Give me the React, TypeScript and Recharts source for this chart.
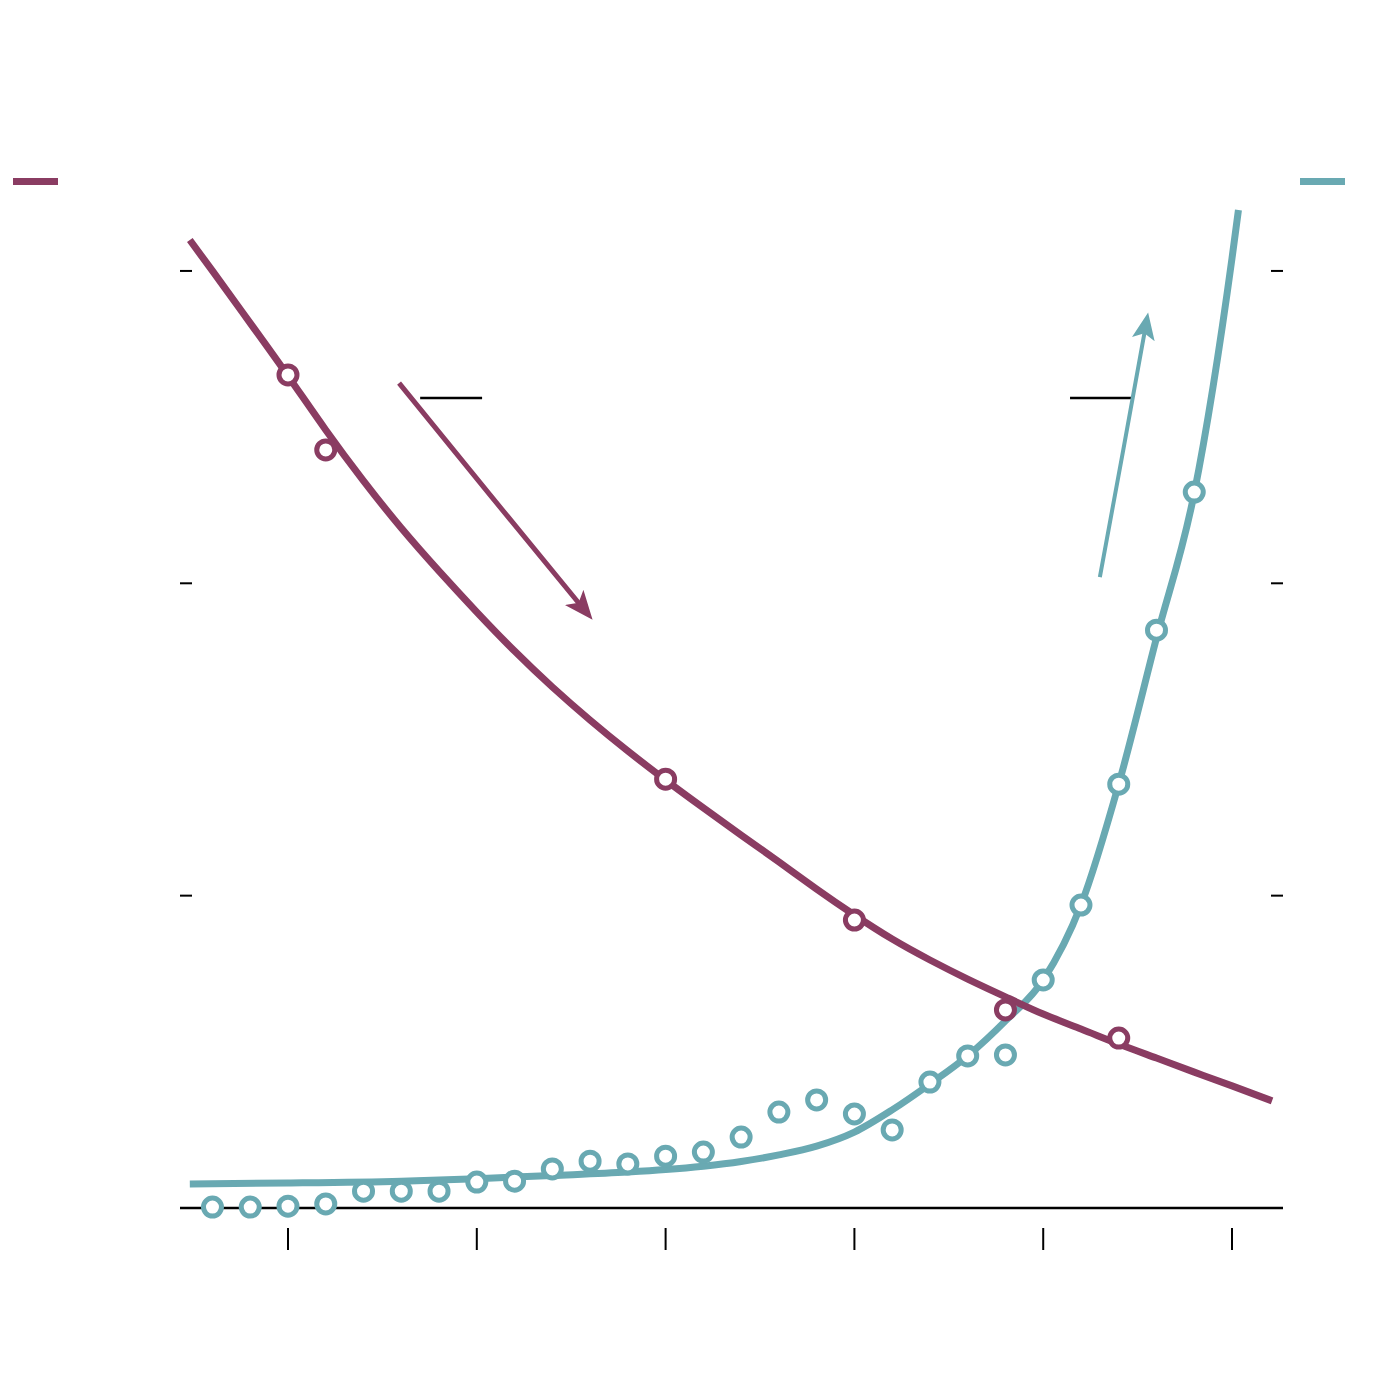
import React from "react"
import { ComposedChart, Line, XAxis, YAxis, ReferenceLine } from "recharts"

const PURPLE = "#8a3c62"
const TEAL = "#69a9b2"

const X_TICKS = [1995, 2000, 2005, 2010, 2015, 2020]
const Y_TICKS = [0, 100, 200, 300]

// fitted curves
const PURPLE_FIT_YEARS = [
  1992.4, 1993, 1994, 1995, 1996, 1997, 1998, 1999, 2000, 2001, 2002, 2003, 2004, 2005,
  2006, 2007, 2008, 2009, 2010, 2011, 2012, 2013, 2014, 2015, 2016, 2017, 2018, 2019, 2020, 2021.06,
]
const PURPLE_FIT_VALUES = [
  309.9, 300.0, 283.3, 266.4, 249.1, 232.8, 217.7, 203.9, 190.8, 178.3, 166.8, 156.2, 146.3, 137.0,
  128.1, 119.4, 110.8, 102.1, 93.8, 86.1, 79.4, 73.3, 67.6, 62.1, 57.3, 52.5, 48.0, 43.5, 39.1, 34.3,
]

const TEAL_FIT_YEARS = [
  1992.4, 1995, 1998, 2000, 2002, 2004, 2005, 2006, 2007, 2008, 2009, 2010, 2011, 2012,
  2013, 2014, 2015, 2016, 2017, 2018, 2019, 2020, 2020.17,
]
const TEAL_FIT_VALUES = [
  7.7, 8.0, 8.6, 9.4, 10.4, 11.5, 12.3, 13.4, 14.9, 17.0, 19.8, 24.3, 31.4, 39.7,
  48.7, 59.9, 73.0, 97.0, 135.7, 182.5, 228.9, 304.1, 319.5,
]

// observations
const PURPLE_OBS_YEARS = [1995, 1996, 2005, 2010, 2014, 2017]
const PURPLE_OBS_VALUES = [266.7, 242.7, 137.3, 92.2, 63.4, 54.4]

const TEAL_OBS_YEARS = [
  1993, 1994, 1995, 1996, 1997, 1998, 1999, 2000, 2001, 2002, 2003, 2004, 2005, 2006,
  2007, 2008, 2009, 2010, 2011, 2012, 2013, 2014, 2015, 2016, 2017, 2018, 2019,
]
const TEAL_OBS_VALUES = [
  0.3, 0.3, 0.6, 1.3, 5.4, 5.4, 5.4, 8.3, 8.6, 12.5, 15.0, 14.1, 16.6, 17.9,
  22.7, 30.7, 34.6, 30.1, 25.0, 40.3, 48.7, 49.0, 73.0, 97.0, 135.7, 185.0, 229.2,
]

// annotation arrows
const PURPLE_ARROW_X = [1997.94, 2000.35, 2002.78]
const PURPLE_ARROW_Y = [264.1, 228.3, 192.5]
const TEAL_ARROW_X = [2016.5, 2017.12, 2017.71]
const TEAL_ARROW_Y = [202.0, 242.7, 282.1]

const toRows = (xs: number[], ys: number[]) => xs.map((year, i) => ({ year, v: ys[i] }))

const purpleFit = toRows(PURPLE_FIT_YEARS, PURPLE_FIT_VALUES)
const tealFit = toRows(TEAL_FIT_YEARS, TEAL_FIT_VALUES)
const purpleObs = toRows(PURPLE_OBS_YEARS, PURPLE_OBS_VALUES)
const tealObs = toRows(TEAL_OBS_YEARS, TEAL_OBS_VALUES)
const purpleArrow = toRows(PURPLE_ARROW_X, PURPLE_ARROW_Y)
const tealArrow = toRows(TEAL_ARROW_X, TEAL_ARROW_Y)

const XTick = ({ x, y }: any) => (
  <line x1={x} x2={x} y1={y + 20} y2={y + 42} stroke="#000" strokeWidth={2} />
)

// tick marks only, no labels
const NoLabel = () => <g />

export default function App() {
  return (
    <div style={{ position: "relative", width: 1384, height: 1358 }}>
      <span style={{ position: "absolute", left: 5, top: 170, width: 45, height: 7, background: PURPLE }} />
      <span style={{ position: "absolute", left: 1292, top: 170, width: 45, height: 7, background: TEAL }} />

      <ComposedChart width={1384} height={1358} margin={{ top: 138, right: 109, left: 172, bottom: 98 }}>
        <defs>
          <marker id="headP" markerUnits="userSpaceOnUse" markerWidth={32} markerHeight={26}
            refX={12} refY={12} orient="auto">
            <path d="M0,0 L29,12 L0,24 L7,12 Z" fill={PURPLE} />
          </marker>
          <marker id="headT" markerUnits="userSpaceOnUse" markerWidth={30} markerHeight={26}
            refX={12.5} refY={11.5} orient="auto">
            <path d="M0,0 L27,11.5 L0,23 L6,11.5 Z" fill={TEAL} />
          </marker>
        </defs>

        <XAxis
          dataKey="year" type="number" domain={[1992.14, 2021.35]} ticks={X_TICKS}
          allowDataOverflow height={60} stroke="#000"
          axisLine={{ stroke: "#000", strokeWidth: 2.5 }}
          tickLine={false} tickSize={0} tickMargin={0} tick={<XTick />}
        />
        <YAxis
          yAxisId="left" orientation="left" type="number" domain={[0, 340]} ticks={Y_TICKS}
          mirror axisLine={false} tick={<NoLabel />} tickSize={12} stroke="#000"
          tickLine={{ stroke: "#000", strokeWidth: 2 }}
        />
        <YAxis
          yAxisId="right" orientation="right" type="number" domain={[0, 340]} ticks={Y_TICKS}
          mirror axisLine={false} tick={<NoLabel />} tickSize={12} stroke="#000"
          tickLine={{ stroke: "#000", strokeWidth: 2 }}
        />

        <ReferenceLine yAxisId="left" stroke="#000" strokeWidth={2.5}
          segment={[{ x: 1998.5, y: 259.3 }, { x: 2000.14, y: 259.3 }]} />
        <ReferenceLine yAxisId="left" stroke="#000" strokeWidth={2.5}
          segment={[{ x: 2015.71, y: 259.3 }, { x: 2017.33, y: 259.3 }]} />

        <Line yAxisId="right" data={tealFit} dataKey="v" type="monotone" stroke={TEAL}
          strokeWidth={7} dot={false} activeDot={false} isAnimationActive={false} />
        <Line yAxisId="right" data={tealObs} dataKey="v" stroke="none" strokeWidth={0}
          dot={{ r: 9, fill: "#fff", stroke: TEAL, strokeWidth: 5 }}
          activeDot={false} isAnimationActive={false} />
        <Line yAxisId="left" data={purpleFit} dataKey="v" type="natural" stroke={PURPLE}
          strokeWidth={7} dot={false} activeDot={false} isAnimationActive={false} />
        <Line yAxisId="left" data={purpleObs} dataKey="v" stroke="none" strokeWidth={0}
          dot={{ r: 9, fill: "#fff", stroke: PURPLE, strokeWidth: 5 }}
          activeDot={false} isAnimationActive={false} />

        <Line yAxisId="left" data={purpleArrow} dataKey="v" type="monotone" stroke={PURPLE}
          strokeWidth={5} dot={false} activeDot={false} markerEnd="url(#headP)"
          isAnimationActive={false} />
        <Line yAxisId="right" data={tealArrow} dataKey="v" type="monotone" stroke={TEAL}
          strokeWidth={4} dot={false} activeDot={false} markerEnd="url(#headT)"
          isAnimationActive={false} />
      </ComposedChart>
    </div>
  )
}
